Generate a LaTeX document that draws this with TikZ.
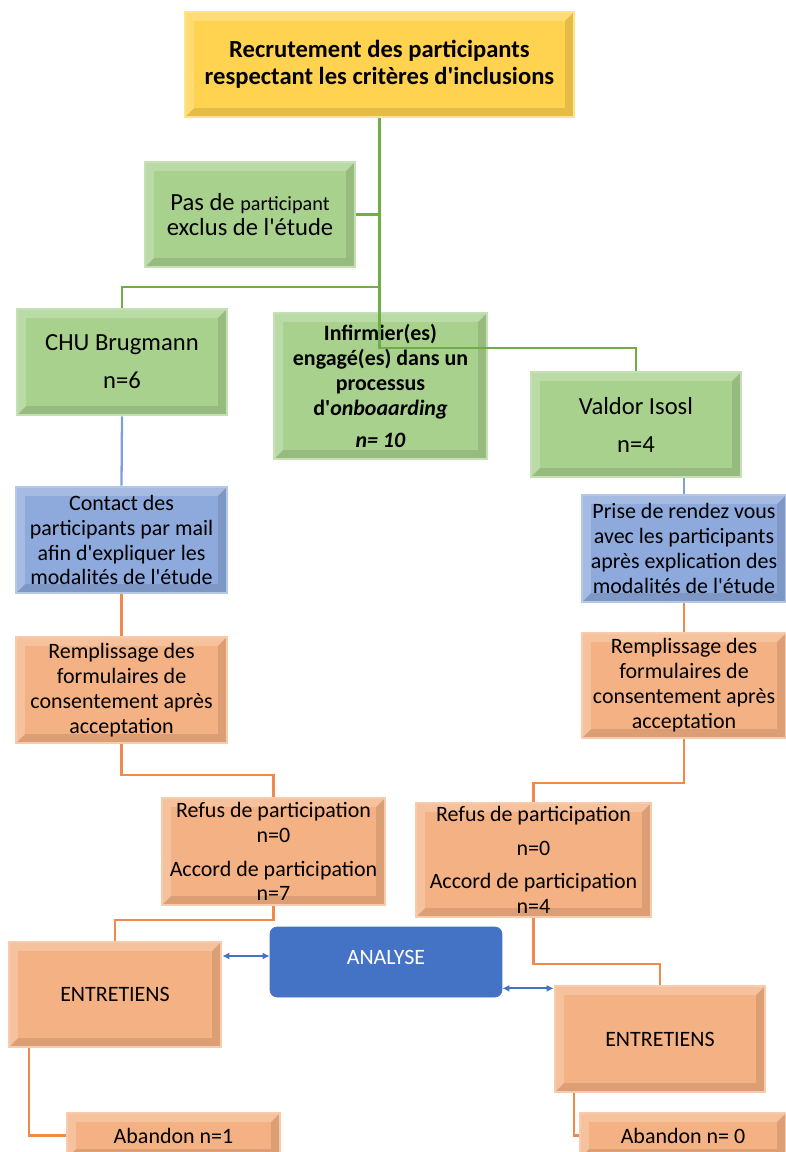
\documentclass[tikz,border=0pt]{standalone}
\usepackage{fontspec}
\setmainfont{Carlito}[Ligatures=TeXOff]
\usetikzlibrary{arrows.meta}

\definecolor{goldfill}{HTML}{FFD34F}
\definecolor{goldedge}{HTML}{FFE585}
\definecolor{greenfill}{HTML}{A9D18E}
\definecolor{greenedge}{HTML}{C5E0B4}
\definecolor{greenline}{HTML}{70AD47}
\definecolor{bluefill}{HTML}{8EA9DB}
\definecolor{blueedge}{HTML}{B4C7E7}
\definecolor{blueline}{HTML}{7F9FDA}
\definecolor{orangefill}{HTML}{F4B183}
\definecolor{orangeedge}{HTML}{F8CBAD}
\definecolor{orangeline}{HTML}{F08A4B}
\definecolor{anafill}{HTML}{4472C4}

\begin{document}
\begin{tikzpicture}[x=0.02cm,y=-0.02cm,
    box/.style={rectangle, align=center, inner sep=0pt, line width=1.5pt,
      font=\fontsize{12.5}{14.2}\selectfont},
    bevel/.style={path picture={
      \fill[black, opacity=0.1]
        (path picture bounding box.south west) -- (path picture bounding box.south east)
        -- (path picture bounding box.north east)
        -- ([xshift=-5pt,yshift=-5pt]path picture bounding box.north east)
        -- ([xshift=-5pt,yshift=5pt]path picture bounding box.south east)
        -- ([xshift=5pt,yshift=5pt]path picture bounding box.south west) -- cycle;
      \fill[white, opacity=0.22]
        (path picture bounding box.south west) -- (path picture bounding box.north west)
        -- (path picture bounding box.north east)
        -- ([xshift=-5pt,yshift=-5pt]path picture bounding box.north east)
        -- ([xshift=5pt,yshift=-5pt]path picture bounding box.north west)
        -- ([xshift=5pt,yshift=5pt]path picture bounding box.south west) -- cycle;}},
    goldbox/.style={box, bevel, fill=goldfill, draw=goldedge},
    greenbox/.style={box, bevel, fill=greenfill, draw=greenedge},
    bluebox/.style={box, bevel, fill=bluefill, draw=blueedge},
    orangebox/.style={box, bevel, fill=orangefill, draw=orangeedge},
    anabox/.style={rectangle, rounded corners=4pt, fill=anafill, draw=anafill},
    green link/.style={draw=greenline, line width=1.3pt},
    blue link/.style={draw=blueline, line width=1.3pt},
    orange link/.style={draw=orangeline, line width=1.3pt},
    ana link/.style={draw=anafill, line width=1pt,
      {Latex[length=4pt,width=4pt]}-{Latex[length=4pt,width=4pt]}}]

  \useasboundingbox (0,0) rectangle (785,1152);

  % boxes
  \node[goldbox, minimum width=7.78cm, minimum height=2.1cm,
    font=\fontsize{14}{15.5}\selectfont\bfseries] (rec) at (379.5,64.5)
    {Recrutement des participants\\respectant les critères d'inclusions};
  \node[greenbox, minimum width=4.2cm, minimum height=2.1cm,
    font=\fontsize{14}{14.2}\selectfont] (excl) at (250,214.5)
    {Pas de {\fontsize{11.5}{14.2}\selectfont participant}\\exclus de l'étude};
  \node[greenbox, minimum width=4.2cm, minimum height=2.12cm,
    font=\fontsize{14}{14.2}\selectfont] (chu) at (122,362)
    {CHU Brugmann\\[7.4pt]n=6};
  \node[greenbox, minimum width=4.26cm, minimum height=2.92cm,
    font=\fontsize{12.5}{14.2}\selectfont\bfseries] (inf) at (380.5,386)
    {Infirmier(es)\\engagé(es) dans un\\processus\\d'\textit{onboaarding}\\[4.5pt]\textit{n= 10}};
  \node[greenbox, minimum width=4.2cm, minimum height=2.1cm,
    font=\fontsize{14}{14.2}\selectfont] (val) at (636,424.5)
    {Valdor Isosl\\[7.4pt]n=4};

  \node[bluebox, minimum width=4.22cm, minimum height=2.12cm] (contact) at (121.5,540)
    {Contact des\\participants par mail\\afin d'expliquer les\\modalités de l'étude};
  \node[bluebox, minimum width=4.08cm, minimum height=2.14cm] (rdv) at (684,548.5)
    {Prise de rendez vous\\avec les participants\\après explication des\\modalités de l'étude};

  \node[orangebox, minimum width=4.22cm, minimum height=2.12cm] (rempA) at (121.5,690)
    {Remplissage des\\formulaires de\\consentement après\\acceptation};
  \node[orangebox, minimum width=4.08cm, minimum height=2.1cm] (rempB) at (684,685.5)
    {Remplissage des\\formulaires de\\consentement après\\acceptation};

  \node[orangebox, minimum width=4.46cm, minimum height=2.14cm] (refA) at (273.5,851.5)
    {Refus de participation\\n=0\\[5pt]Accord de participation\\n=7};
  \node[orangebox, minimum width=4.7cm, minimum height=2.28cm] (refB) at (533.5,860)
    {Refus de participation\\[5pt]n=0\\[5pt]Accord de participation\\n=4};

  \node[orangebox, minimum width=4.24cm, minimum height=2.1cm] (entA) at (115,994.5) {ENTRETIENS};
  \node[orangebox, minimum width=4.2cm, minimum height=2.12cm] (entB) at (660,1039) {ENTRETIENS};
  \node[anabox, minimum width=4.64cm, minimum height=1.4cm,
    label={[text=white, yshift=0.1cm, font=\fontsize{12.5}{14}\selectfont]center:ANALYSE}]
    (ana) at (386,962) {};

  \node[orangebox, minimum width=4.26cm, minimum height=0.9cm] (abA) at (173.5,1135.5) {Abandon n=1};
  \node[orangebox, minimum width=4.12cm, minimum height=0.9cm] (abB) at (683,1135.5) {Abandon n= 0};

  % connectors
  \coordinate (t1) at (379.5,287);
  \coordinate (t2) at (379.5,348);
  \draw[green link] (rec.south) -- (t2) -| (val.north);
  \draw[green link] (excl.east) -- (excl.east -| t1);
  \draw[green link] (t1) -| (chu.north);

  \path (chu.south) edge[blue link] (contact.north);
  \path (rdv.north |- val.south) edge[blue link] (rdv.north);

  \path (contact.south) edge[orange link] (rempA.north);
  \path (rdv.south) edge[orange link] (rempB.north);
  \draw[orange link] (rempA.south) -- ++(0,31) -| (refA.north);
  \draw[orange link] (rempB.south) -- ++(0,44) -| (refB.north);
  \draw[orange link] (refA.south) -- ++(0,14) -| (entA.north);
  \draw[orange link] (refB.south) -- ++(0,46) -| (entB.north);
  \draw[orange link] ([xshift=0.42cm]entA.south west) |- (abA.west);
  \draw[orange link] ([xshift=0.4cm]entB.south west) |- (abB.west);

  \draw[ana link] ([yshift=0.12cm]ana.west -| entA.east) -- ([yshift=0.12cm]ana.west);
  \draw[ana link] ([yshift=0.18cm]ana.south east) -- ([yshift=0.18cm]ana.south east -| entB.west);

\end{tikzpicture}
\end{document}
